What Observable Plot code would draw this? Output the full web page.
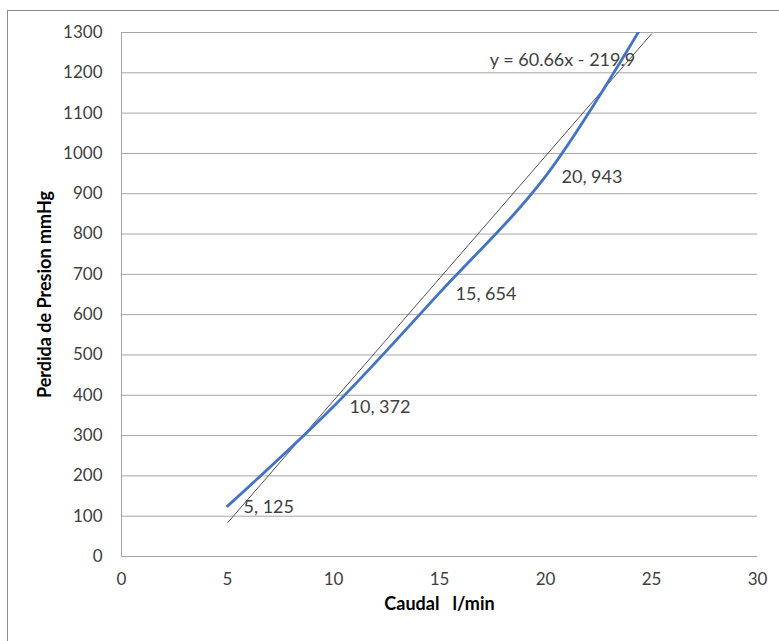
<!DOCTYPE html>
<html>
<head>
<meta charset="utf-8">
<script src="https://cdn.jsdelivr.net/npm/d3@7"></script>
<script src="https://cdn.jsdelivr.net/npm/@observablehq/plot@0.6"></script>
<style>
  html, body { margin: 0; padding: 0; background: #fff; }
  #wrap { position: relative; width: 779px; height: 641px; overflow: hidden; }
  #border { position: absolute; left: 7px; top: 10px; width: 800px; height: 700px;
            border-left: 1px solid #8c8c8c; border-top: 1px solid #8c8c8c; }
  #chart { position: absolute; left: 0; top: 0; }
</style>
</head>
<body>
<div id="wrap"><div id="border"></div><div id="chart"></div></div>
<script>
const caudal = [5, 10, 15, 20, 25];
const perdida = [125, 372, 654, 943, 1356];
const xTicks = [0, 5, 10, 15, 20, 25, 30];
const yTicks = [0, 100, 200, 300, 400, 500, 600, 700, 800, 900, 1000, 1100, 1200, 1300];
const xTitle = "Caudal   l/min";
const yTitle = "Perdida de Presion mmHg";
const equation = "y = 60.66x - 219.9";

const pts = caudal.map((x, i) => ({x, y: perdida[i], label: `${x}, ${perdida[i]}`}));

const font = "Lato, 'Open Sans', sans-serif";
const plot = Plot.plot({
  width: 779,
  height: 641,
  marginLeft: 121,
  marginRight: 22,
  marginTop: 32,
  marginBottom: 85,
  style: {fontFamily: font, fontSize: "17px", color: "#404040", background: "transparent"},
  x: {domain: [0, 30], ticks: xTicks, tickSize: 0, tickPadding: 16, label: null},
  y: {domain: [0, 1300], ticks: yTicks, tickSize: 0, tickPadding: 19, label: null},
  marks: [
    Plot.gridY(yTicks.slice(1), {stroke: "#a6a6a6", strokeOpacity: 1, strokeWidth: 1}),
    Plot.ruleY([0], {stroke: "#a6a6a6"}),
    Plot.ruleX([0], {stroke: "#a6a6a6"}),
    Plot.linearRegressionY(pts, {x: "x", y: "y", ci: 0, stroke: "#404040", strokeWidth: 0.9, clip: true}),
    Plot.line(pts, {x: "x", y: "y", curve: "catmull-rom", stroke: "#4472C4", strokeWidth: 2.8, clip: true}),
    Plot.text(pts, {x: "x", y: "y", text: "label", textAnchor: "start", dx: 16, dy: 1, fill: "#404040", fontSize: 18, clip: true}),
    Plot.text([{x: 20.8, y: 1230, t: equation}], {x: "x", y: "y", text: "t", fill: "#404040", fontSize: 18}),
    Plot.text([yTitle], {frameAnchor: "left", textAnchor: "middle", dx: -76, rotate: -90, fontWeight: "bold", fontSize: 18, fill: "#000"}),
    Plot.text([xTitle], {frameAnchor: "bottom", textAnchor: "middle", dy: 53, fontWeight: "bold", fontSize: 18, fill: "#000"}),
    Plot.axisX(xTicks, {tickSize: 0, tickPadding: 16, fontSize: 17, fill: "#404040", label: null, tickFormat: d => String(d)}),
    Plot.axisY(yTicks, {tickSize: 0, tickPadding: 19, fontSize: 17, fill: "#404040", label: null, tickFormat: d => String(d)})
  ]
});
document.getElementById("chart").appendChild(plot);
</script>
</body>
</html>
